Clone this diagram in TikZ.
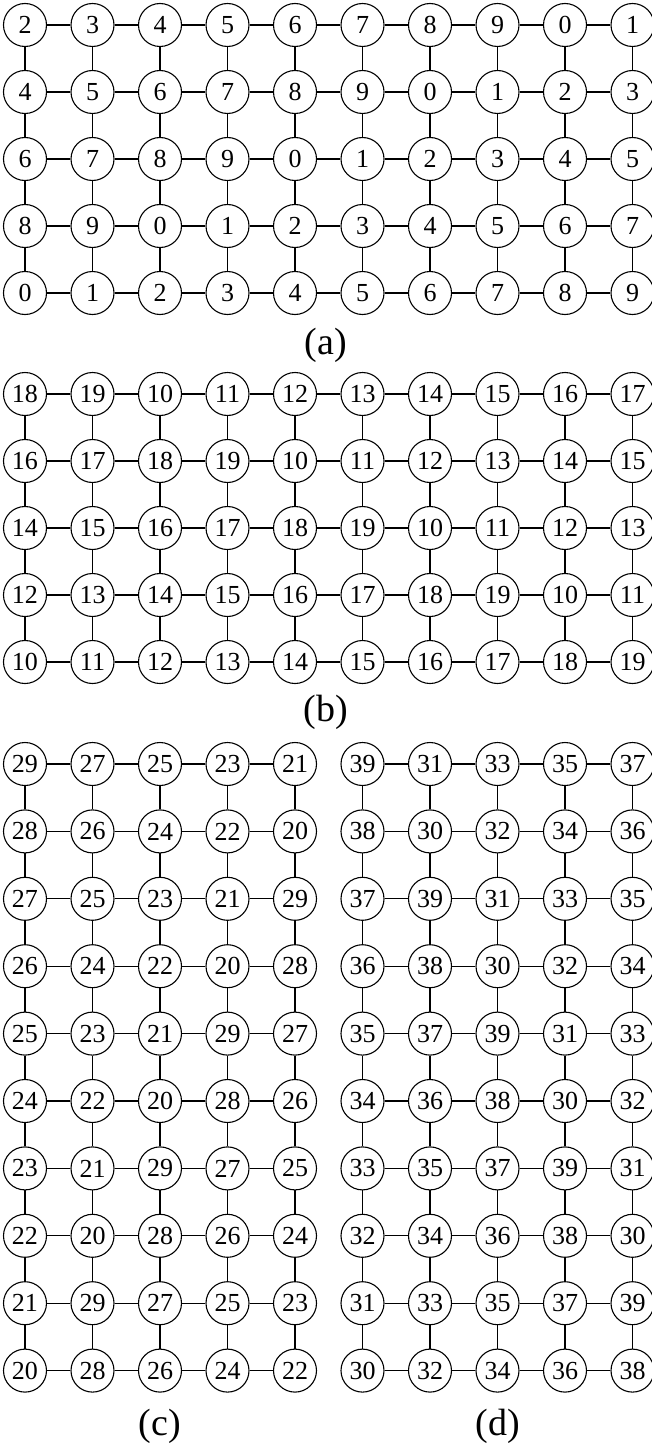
\documentclass[tikz,border=0pt]{standalone}
\usepackage{fontspec}
\setmainfont{Liberation Serif}
\begin{document}
\begin{tikzpicture}[x=1pt,y=-1pt,
  vtx/.style={circle,draw,line width=1.1pt,minimum size=43pt,inner sep=0pt,font=\fontsize{26}{26}\selectfont,fill=white},
  edge/.style={line width=1.1pt},
  sublabel/.style={font=\fontsize{38}{38}\selectfont,inner sep=0pt}]
\useasboundingbox (0,0) rectangle (652,1450);
% (a)
\foreach \i in {0,...,4}{
  \foreach \c in {0,...,9}{
    \pgfmathtruncatemacro{\v}{mod(2*\i+2+\c,10)}
    \node[vtx] (a-\i-\c) at ({25+67.5*\c},{25+67*\i}) {\v};
  }
}
\foreach \i in {0,...,4}{\foreach \c [count=\n] in {0,...,8}{\draw[edge] (a-\i-\c) -- (a-\i-\n);}}
\foreach \i [count=\n] in {0,...,3}{\foreach \c in {0,...,9}{\draw[edge] (a-\i-\c) -- (a-\n-\c);}}
\node[sublabel] (la) at (326,345) {(a)};
% (b)
\foreach \i in {0,...,4}{
  \foreach \c in {0,...,9}{
    \pgfmathtruncatemacro{\v}{10+mod(2*(4-\i)+\c,10)}
    \node[vtx] (b-\i-\c) at ({25+67.5*\c},{394+67*\i}) {\v};
  }
}
\foreach \i in {0,...,4}{\foreach \c [count=\n] in {0,...,8}{\draw[edge] (b-\i-\c) -- (b-\i-\n);}}
\foreach \i [count=\n] in {0,...,3}{\foreach \c in {0,...,9}{\draw[edge] (b-\i-\c) -- (b-\n-\c);}}
\node[sublabel] (lb) at (326,712) {(b)};
% (c)
\foreach \i in {0,...,9}{
  \foreach \c in {0,...,4}{
    \pgfmathtruncatemacro{\v}{20+mod(9-\i-2*\c+20,10)}
    \node[vtx] (c-\i-\c) at ({25+67.5*\c},{764+67.4*\i}) {\v};
  }
}
\foreach \i in {0,...,9}{\foreach \c [count=\n] in {0,...,3}{\draw[edge] (c-\i-\c) -- (c-\i-\n);}}
\foreach \i [count=\n] in {0,...,8}{\foreach \c in {0,...,4}{\draw[edge] (c-\i-\c) -- (c-\n-\c);}}
\node[sublabel] (lc) at (160,1426) {(c)};
% (d)
\foreach \i in {0,...,9}{
  \foreach \c in {0,...,4}{
    \pgfmathtruncatemacro{\v}{30+mod(9-\i+2*\c,10)}
    \node[vtx] (d-\i-\c) at ({362.5+67.5*\c},{764+67.4*\i}) {\v};
  }
}
\foreach \i in {0,...,9}{\foreach \c [count=\n] in {0,...,3}{\draw[edge] (d-\i-\c) -- (d-\i-\n);}}
\foreach \i [count=\n] in {0,...,8}{\foreach \c in {0,...,4}{\draw[edge] (d-\i-\c) -- (d-\n-\c);}}
\node[sublabel] (ld) at (497.5,1426) {(d)};
\end{tikzpicture}
\end{document}
